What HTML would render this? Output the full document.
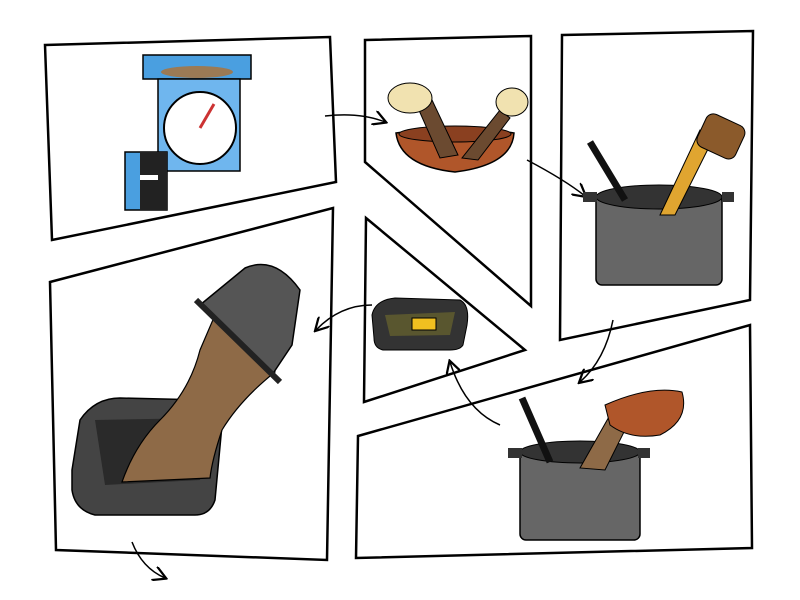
<!DOCTYPE html>
<html><head><meta charset="utf-8"><style>
html,body{margin:0;padding:0;background:#fff;width:800px;height:600px;overflow:hidden}
</style></head><body>
<svg width="800" height="600" viewBox="0 0 800 600" xmlns="http://www.w3.org/2000/svg">
<defs>
<marker id="ah" markerWidth="10" markerHeight="10" refX="8" refY="5" orient="auto"><path d="M0,0 L9,5 L0,10" fill="none" stroke="#000" stroke-width="1.5"/></marker>
</defs>
<g fill="#fff" stroke="#000" stroke-width="2.5">
<polygon points="45,45 330,37 336,182 52,240"/>
<polygon points="365,40 531,36 531,306 365,162"/>
<polygon points="562,35 753,31 750,300 560,340"/>
<polygon points="366,218 525,350 364,402"/>
<polygon points="50,282 333,208 327,560 56,550"/>
<polygon points="358,436 750,325 752,548 356,558"/>
</g>
<g fill="none" stroke="#000" stroke-width="1.5" marker-end="url(#ah)">
<path d="M325,116 Q360,112 385,122"/>
<path d="M527,160 Q565,180 585,196"/>
<path d="M613,320 Q605,360 580,382"/>
<path d="M500,425 Q465,410 450,362"/>
<path d="M372,305 Q340,305 316,330"/>
<path d="M132,542 Q142,568 165,578"/>
</g>
<!-- panel1 -->
<rect x="143" y="55" width="108" height="24" fill="#4a9fe0" stroke="#000" stroke-width="1.5"/>
<ellipse cx="197" cy="72" rx="36" ry="6" fill="#9b7a55"/>
<rect x="158" y="79" width="82" height="92" fill="#6fb6ee" stroke="#000" stroke-width="1.5"/>
<circle cx="200" cy="128" r="36" fill="#fff" stroke="#000" stroke-width="2"/>
<line x1="200" y1="128" x2="214" y2="104" stroke="#c33" stroke-width="3"/>
<rect x="125" y="152" width="42" height="58" fill="#4a9fe0" stroke="#000" stroke-width="1.5"/>
<rect x="140" y="152" width="27" height="58" fill="#222"/>
<rect x="140" y="175" width="18" height="5" fill="#fff"/>
<!-- panel2 -->
<path d="M396,133 Q455,124 514,133 Q512,165 455,172 Q400,166 396,133Z" fill="#b0562a" stroke="#000" stroke-width="1.5"/>
<ellipse cx="455" cy="134" rx="56" ry="8" fill="#8a4020" stroke="#000"/>
<path d="M418,108 L440,158 L458,155 L432,100Z" fill="#6b4a30" stroke="#000"/>
<path d="M500,110 L462,158 L478,160 L510,118Z" fill="#6b4a30" stroke="#000"/>
<ellipse cx="410" cy="98" rx="22" ry="15" fill="#f1e2b0" stroke="#000"/>
<ellipse cx="512" cy="102" rx="16" ry="14" fill="#f1e2b0" stroke="#000"/>
<!-- panel3 -->
<rect x="596" y="195" width="126" height="90" rx="6" fill="#666" stroke="#000" stroke-width="1.5"/>
<ellipse cx="659" cy="197" rx="63" ry="12" fill="#333" stroke="#000"/>
<rect x="583" y="192" width="14" height="10" fill="#333"/>
<rect x="722" y="192" width="12" height="10" fill="#333"/>
<path d="M590,142 L625,200" stroke="#111" stroke-width="7"/>
<path d="M700,130 L660,215 L675,215 L715,135Z" fill="#e0a530" stroke="#000"/>
<rect x="700" y="118" width="42" height="36" rx="8" fill="#8b5a2b" stroke="#000" transform="rotate(25 720 136)"/>
<!-- triangle pan -->
<path d="M372,315 Q375,300 395,298 L460,300 Q470,305 467,325 L463,345 Q460,350 450,350 L383,350 Q374,348 374,338Z" fill="#333" stroke="#000"/>
<path d="M385,315 L455,312 L450,335 L390,336Z" fill="#59562f"/>
<rect x="412" y="318" width="24" height="12" fill="#f0c020" stroke="#000"/>
<!-- bottom left pan -->
<path d="M72,470 L80,420 Q95,398 120,398 L205,400 Q225,402 222,425 L215,500 Q210,515 195,515 L95,515 Q75,510 72,490Z" fill="#444" stroke="#000" stroke-width="1.5"/>
<path d="M95,420 L205,418 L200,480 L105,485Z" fill="#2a2a2a"/>
<!-- stream -->
<path d="M215,315 L275,372 Q240,400 222,430 Q212,460 210,478 L122,482 Q135,445 160,420 Q190,390 200,350Z" fill="#8e6a47" stroke="#000" stroke-width="1.2"/>
<!-- tilted pot -->
<path d="M200,305 L245,268 Q275,255 300,290 L292,345 L272,375 Z" fill="#555" stroke="#000" stroke-width="1.5"/>
<path d="M196,300 L280,382" stroke="#222" stroke-width="6"/>
<!-- bottom right pot -->
<rect x="520" y="450" width="120" height="90" rx="6" fill="#666" stroke="#000" stroke-width="1.5"/>
<ellipse cx="580" cy="452" rx="60" ry="11" fill="#333" stroke="#000"/>
<rect x="508" y="448" width="14" height="10" fill="#333"/>
<rect x="638" y="448" width="12" height="10" fill="#333"/>
<path d="M522,398 L550,462" stroke="#111" stroke-width="7"/>
<path d="M580,468 L610,415 L630,420 L605,470Z" fill="#8e6a47" stroke="#000"/>
<path d="M605,405 Q650,385 682,392 Q690,420 660,435 Q630,440 610,425Z" fill="#b0562a" stroke="#000"/>
</svg>
</body></html>
